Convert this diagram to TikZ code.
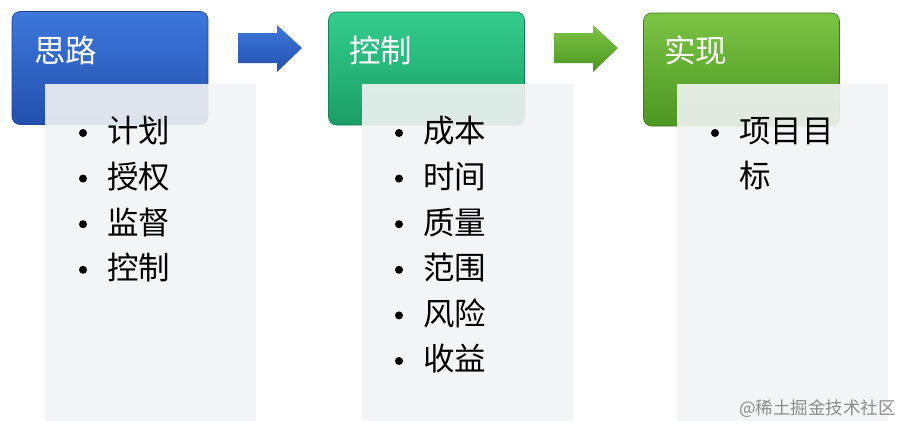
\documentclass[tikz,border=0pt]{standalone}
\usepackage{fontspec}
\newfontfamily\cjk{Noto Sans CJK SC}
\definecolor{blueT}{HTML}{3D78DA}
\definecolor{blueB}{HTML}{2350AE}
\definecolor{tealT}{HTML}{34CD8E}
\definecolor{tealB}{HTML}{1B9E66}
\definecolor{greenT}{HTML}{7CC445}
\definecolor{greenB}{HTML}{4C9622}
\definecolor{panelc}{HTML}{F2F3F4}
\begin{document}
\begin{tikzpicture}[x=1pt,y=-1pt,
  box/.style={rounded corners=8pt, minimum width=196pt, minimum height=113pt, inner sep=0pt},
  panel/.style={fill=panelc, fill opacity=0.9, minimum width=211pt, minimum height=337pt, inner sep=0pt},
  title/.style={anchor=west, text=white, font=\cjk\fontsize{31.5}{34}\selectfont, inner sep=0pt},
  item/.style={anchor=west, text=black, font=\cjk\fontsize{31.5}{36}\selectfont, inner sep=0pt},
  bul/.style={circle, fill=black, inner sep=0pt, minimum size=8pt}]
\useasboundingbox (0,0) rectangle (912,434);
\fill[white] (0,0) rectangle (912,434);

% header boxes
\node[box, top color=blueT, bottom color=blueB, draw=blueB!80!black, line width=0.6pt] (b1) at (110,68) {};
\node[box, top color=tealT, bottom color=tealB, draw=tealB!80!black, line width=0.6pt] (b2) at (426.5,68.5) {};
\node[box, top color=greenT, bottom color=greenB, draw=greenB!80!black, line width=0.6pt] (b3) at (741.5,69.5) {};

% arrows
\shade[top color=blueT, bottom color=blueB] (238,33) -- (277,33) -- (277,25) -- (302,48) -- (277,72) -- (277,63) -- (238,63) -- cycle;
\shade[top color=greenT, bottom color=greenB] (554,33) -- (593,33) -- (593,25) -- (618,48) -- (593,72) -- (593,63) -- (554,63) -- cycle;

% titles
\node[title] (t1) at (34,50) {思路};
\node[title] (t2) at (349,50) {控制};
\node[title] (t3) at (664,50) {实现};

% panels
\node[panel] (p1) at (150.5,252.5) {};
\node[panel] (p2) at (467,252.5) {};
\node[panel] (p3) at (782.5,252) {};

% panel 1 items
\foreach \t [count=\i] in {计划,授权,监督,控制}{
  \node[bul] at (83,{133+45.6*(\i-1)}) {};
  \node[item] at (107,{131+45.6*(\i-1)}) {\t};
}
% panel 2 items
\foreach \t [count=\i] in {成本,时间,质量,范围,风险,收益}{
  \node[bul] at (399,{133+45.6*(\i-1)}) {};
  \node[item] at (423,{131+45.6*(\i-1)}) {\t};
}
% panel 3 items
\node[bul] (bu3) at (715,133) {};
\node[item] (i31) at (739,131) {项目目};
\node[item] (i32) at (739,176) {标};

% watermark
\node[anchor=east, text=black!45, font=\cjk\fontsize{17.5}{19}\selectfont, inner sep=0pt] (wm) at (896,409) {@稀土掘金技术社区};
\end{tikzpicture}
\end{document}
